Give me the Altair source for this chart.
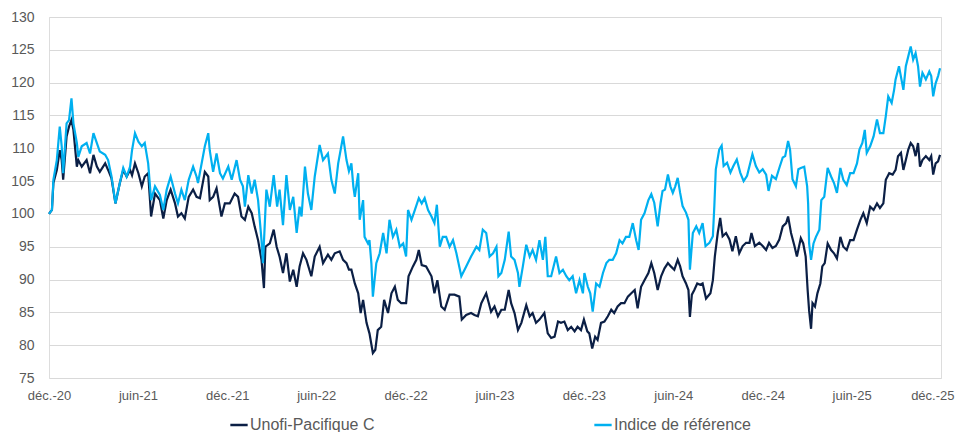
import altair as alt
import pandas as pd

# Day offsets from 1 Dec 2020 and index values (base 100)
unofi_days = [
    0, 6, 9, 16, 22, 26, 29, 36, 41, 46, 50, 57, 60, 67, 77, 84, 91, 98, 104, 115, 121, 128, 136, 145, 152, 159, 166, 170, 176, 183, 190, 196, 203, 209, 217, 227, 234, 241, 249, 258, 264, 271, 278, 286, 295, 302,
    309, 319, 326, 329, 336, 343, 353, 360, 370, 380, 387, 394, 401, 408, 415, 421, 428, 435, 440, 443, 452, 460, 466, 472, 479, 486, 493, 500, 507, 513, 520, 527, 537, 544, 554, 561, 571, 578, 585, 595, 602, 609,
    614, 619, 626, 633, 638, 643, 650, 656, 663, 668, 673, 680, 686, 694, 701, 708, 714, 721, 731, 736, 745, 752, 757, 763, 772, 783, 789, 795, 803, 810, 820, 830, 840, 845, 854, 864, 871, 878, 885, 895, 905, 912,
    919, 926, 933, 941, 946, 953, 960, 967, 977, 984, 990, 997, 1004, 1014, 1021, 1028, 1035, 1042, 1048, 1055, 1062, 1069, 1076, 1082, 1089, 1095, 1102, 1106, 1112, 1118, 1123, 1130, 1137, 1144, 1151, 1157, 1164, 1171, 1178, 1185, 1192, 1199, 1205, 1212, 1219, 1227,
    1233, 1239, 1246, 1253, 1260, 1267, 1273, 1280, 1287, 1292, 1297, 1304, 1309, 1312, 1316, 1321, 1327, 1333, 1338, 1345, 1354, 1359, 1363, 1369, 1374, 1379, 1386, 1393, 1399, 1406, 1413, 1420, 1427, 1434, 1438, 1445, 1454, 1461, 1468, 1474, 1481, 1488, 1495, 1502, 1509, 1513, 1519, 1526, 1531,
    1539, 1544, 1549, 1553, 1556, 1560, 1563, 1568, 1573, 1579, 1583, 1588, 1594, 1601, 1607, 1613, 1620, 1626, 1633, 1640, 1647, 1654, 1661, 1667, 1674, 1681, 1688, 1695, 1701, 1708, 1713, 1720, 1727, 1733, 1738, 1744, 1749, 1754, 1759, 1764, 1769, 1774, 1779, 1783, 1788, 1795, 1802, 1806, 1810, 1815, 1820, 1824,
]
unofi_vals = [
    100, 100.6, 104.7, 106.7, 109.7, 108.2, 105.2, 111.8, 113.3, 114.3, 112.8, 107.2, 108.2, 107.2, 108.2, 106.2, 109, 107.2, 106.4, 107.7, 106.7, 105.4, 101.6, 104.7, 106.7, 105.7, 106.7, 105.9, 107.7, 106.2, 104.2, 105.7, 106.2, 99.6, 103.1, 102.1, 99.3, 102.1, 103.7, 101.6, 99.6, 100.1, 99.3, 102.6, 103.7, 102.6,
    102.4, 106.4, 105.7, 102.1, 102.6, 103.9, 99.6, 101.6, 101.6, 103.1, 102.6, 99.6, 99.1, 101.1, 100.1, 98.1, 96, 93, 88.7, 95, 95.5, 97.6, 95, 93.5, 91, 94, 89.7, 91.5, 88.9, 92, 94, 93, 90.5, 93.5, 95, 92.5, 93.8, 93, 94, 94.3, 93, 92.5,
    91.5, 91.5, 89.4, 87.9, 84.9, 86.9, 83.4, 81.8, 78.8, 79.3, 82.3, 82.8, 86.9, 84.9, 87.9, 88.9, 86.9, 86.4, 86.4, 90.5, 92, 93, 94.5, 92.2, 92, 90.5, 87.9, 89.9, 85.9, 85.4, 87.7, 87.7, 87.4, 83.9, 84.6, 84.9, 84.6, 84.4, 86.4, 87.9, 85.1, 85.9,
    84.4, 85.4, 85.4, 88.4, 86.4, 84.9, 82.3, 83.4, 86.1, 84.4, 84.9, 83.4, 83.9, 84.9, 81.8, 81.1, 81.3, 83.6, 83.4, 83.6, 82.3, 82.8, 82.1, 82.8, 82.3, 83.9, 82.1, 81.8, 79.5, 81.3, 80.8, 83.4, 83.6, 84.4, 85.4, 84.9, 85.9, 86.4, 86.4, 87.4, 87.9, 88.4, 85.6, 88.9, 89.9, 91,
    92.5, 91, 88.4, 90.5, 91.7, 92.5, 92, 91.5, 93, 92, 90.5, 89.4, 88.4, 84.3, 87.7, 88.4, 89.4, 89.2, 89.4, 87.1, 87.9, 89.9, 93.5, 97.1, 99.4, 96.6, 97.1, 96.1, 94.3, 96.6, 94, 95.1, 95.6, 95.6, 97.1, 95.1, 95.6, 95.1, 94.5, 95.6, 94.8, 95.1, 96.1, 98.1, 98.6, 99.6, 97.1, 95.1, 93.5,
    96.3, 95.5, 93.5, 88.4, 85.3, 82.5, 86.4, 85.9, 87.9, 89.4, 92, 92.5, 95.5, 94.5, 94, 93.2, 96.5, 95, 94.5, 96, 96, 97.6, 99.1, 100.1, 98.6, 101.1, 100.6, 101.6, 100.9, 101.6, 105.2, 106.2, 106, 106.7, 108.8, 109.3, 106.7, 108.2, 109.8, 110.8, 110.3, 108.8, 110.8, 107.2, 108.2, 108.8, 108.2, 108.8, 106, 107.7, 108, 109,
]

indice_days = [
    0, 6, 9, 16, 22, 26, 29, 36, 41, 46, 50, 57, 60, 67, 77, 84, 91, 98, 104, 115, 121, 128, 136, 145, 152, 159, 166, 170, 176, 183, 190, 196, 203, 209, 217, 227, 234, 241, 249, 258, 264, 271, 278, 286, 295, 302,
    305, 319, 326, 329, 336, 343, 350, 356, 367, 374, 384, 391, 397, 401, 408, 415, 421, 428, 435, 438, 445, 452, 460, 467, 472, 479, 486, 493, 500, 507, 513, 517, 524, 530, 537, 544, 554, 561, 571, 578, 585, 592, 602, 609,
    614, 619, 623, 626, 633, 636, 643, 646, 653, 656, 660, 663, 670, 677, 684, 691, 697, 704, 711, 718, 725, 731, 735, 742, 748, 757, 763, 769, 776, 783, 789, 794, 800, 806, 813, 820, 827, 834, 844, 854, 864, 875, 881, 888, 895, 902, 909, 916, 920,
    926, 933, 941, 946, 953, 960, 963, 970, 977, 984, 990, 997, 1004, 1011, 1016, 1021, 1028, 1038, 1045, 1052, 1059, 1065, 1072, 1079, 1086, 1093, 1096, 1103, 1108, 1113, 1120, 1127, 1134, 1141, 1147, 1154, 1161, 1168, 1174, 1181, 1188, 1195, 1202, 1207, 1212, 1219, 1227,
    1233, 1239, 1246, 1252, 1256, 1261, 1267, 1272, 1277, 1282, 1287, 1292, 1297, 1304, 1309, 1312, 1318, 1325, 1331, 1338, 1344, 1352, 1359, 1362, 1365, 1372, 1377, 1381, 1388, 1395, 1401, 1408, 1415, 1422, 1429, 1434, 1440, 1447, 1454, 1461, 1468, 1473, 1480, 1488, 1495, 1502, 1507, 1513, 1517, 1522, 1529,
    1534, 1539, 1546, 1552, 1554, 1556, 1560, 1565, 1570, 1577, 1581, 1587, 1594, 1601, 1607, 1613, 1620, 1626, 1633, 1640, 1647, 1654, 1659, 1665, 1670, 1674, 1681, 1688, 1695, 1701, 1708, 1713, 1718, 1725, 1730, 1733, 1740, 1745, 1749, 1754, 1759, 1764, 1769, 1774, 1779, 1783, 1788, 1795, 1802, 1806, 1810, 1815, 1820, 1824,
]
indice_vals = [
    100, 100.6, 105.2, 108.2, 113.3, 110.3, 106.2, 113.8, 114.3, 117.6, 113.8, 110.8, 108.7, 110.3, 110.8, 109.2, 112.3, 110.8, 109.5, 109, 108.2, 105.7, 101.6, 104.7, 107, 105.7, 107.2, 109.7, 112.3, 111, 110.3, 110.8, 107.7, 102.1, 104.2, 102.9, 100.6, 103.7, 105.7, 103.1, 101.6, 103.7, 102.1, 105.2, 107.2, 105.7,
    104.7, 110.3, 112.3, 109.7, 106.4, 109.2, 106.2, 105.4, 107.2, 105.2, 108.2, 105.2, 104.2, 101.1, 105.9, 103.1, 105.2, 102.1, 96, 92.5, 103.7, 101.1, 105.9, 101.1, 103.7, 98.3, 105.9, 100.6, 102.6, 97.1, 101.1, 99.6, 107.2, 103.1, 100.6, 105.7, 110.5, 108.2, 109.2, 105.2, 103.1, 107.7, 111.8, 108.2,
    106.5, 107.7, 104.2, 102.6, 106.2, 99.1, 102.1, 96.5, 95.5, 96, 92.4, 87.4, 92.5, 94, 97.1, 94, 99.1, 96.5, 97.6, 95, 95.5, 93.5, 100.6, 99.1, 100.4, 102.4, 101.6, 102.4, 100.6, 99.6, 98.6, 101.4, 95, 96.5, 96.5, 95, 96, 94, 90.5, 92, 93.5, 95, 94.5, 97.6, 97.1, 93.5, 94, 95, 90.5,
    91, 93, 97.3, 93.5, 93, 91, 88.9, 92, 95.3, 93.5, 94.5, 93, 96, 93, 96.5, 90.5, 90.5, 93.5, 91, 91.5, 90.5, 89.9, 90.5, 87.9, 89.9, 87.9, 91, 88.9, 87.9, 85.1, 89.4, 88.9, 91, 92.5, 93, 93, 94, 96, 95.5, 96.5, 96.5, 98.6, 96, 94.5, 99.1, 100.1, 102.1,
    103, 101.7, 98.1, 101.7, 103.5, 103.7, 106, 104.2, 103.2, 104.2, 105.5, 103.2, 101.2, 100.2, 99.1, 91.5, 97.1, 98.1, 97.1, 98.6, 95.1, 95.6, 96.6, 101.2, 106.8, 109.8, 110.4, 107.3, 107.8, 106.3, 107.3, 108.3, 106.3, 105, 105.8, 107.3, 109.1, 107.3, 106.3, 106.8, 106, 103.5, 105.8, 105.3, 107, 108.6, 108.8, 111.1, 109.8, 105.3, 104.2,
    106.8, 107, 107.2, 104.2, 101.6, 95.5, 93, 95.5, 96.5, 97.6, 102.1, 102.6, 107, 105.7, 104.7, 103.2, 107, 105.2, 104.4, 106.2, 106.2, 107.7, 109.8, 110.8, 112.8, 109.3, 110.3, 111.8, 114.4, 112.3, 112.3, 114.9, 117.9, 116.9, 118.9, 120.5, 122.5, 120.5, 118.9, 122.5, 124, 125.5, 123.5, 124.5, 122.5, 119.4, 121.5, 120.5, 121.7, 121, 117.9, 119.9, 121, 122.2,
]

series_names = ["Unofi-Pacifique C", "Indice de référence"]
series_colors = ["#0B1F45", "#00B0F0"]
y_ticks = [75, 80, 85, 90, 95, 100, 105, 110, 115, 120, 125, 130]

assert len(unofi_days) == len(unofi_vals)
assert len(indice_days) == len(indice_vals)

base = pd.Timestamp("2020-12-01")
df_u = pd.DataFrame({
    "date": base + pd.to_timedelta(unofi_days, unit="D"),
    "value": unofi_vals,
    "series": series_names[0],
})
df_i = pd.DataFrame({
    "date": base + pd.to_timedelta(indice_days, unit="D"),
    "value": indice_vals,
    "series": series_names[1],
})
df = pd.concat([df_u, df_i], ignore_index=True)
df["date"] = df["date"].dt.strftime("%Y-%m-%dT%H:%M:%S")

tick_dates = []
for yr in range(2020, 2026):
    if yr > 2020:
        tick_dates.append(alt.DateTime(year=yr, month=6, date=1))
    tick_dates.append(alt.DateTime(year=yr, month=12, date=1))

last_test = "year(datum.value) == 2025 && month(datum.value) == 11"

x_enc = alt.X(
    "date:T",
    scale=alt.Scale(domain=[alt.DateTime(year=2020, month=12, date=1),
                            alt.DateTime(year=2025, month=12, date=1)]),
    axis=alt.Axis(
        values=tick_dates,
        labelExpr="(month(datum.value) == 11 ? 'déc.-' : 'juin-') + timeFormat(datum.value, '%y')",
        grid=False, domain=False, ticks=False, tickSize=0,
        labelPadding=11, labelFontSize=13, labelColor="#595959",
        labelFont="Liberation Sans", labelFlush=False, labelOverlap=False,
        labelAlign={"condition": {"test": last_test, "value": "right"}, "value": "center"},
        labelOffset={"condition": {"test": last_test, "value": 13}, "value": 0},
        title=None,
    ),
)
y_enc = alt.Y(
    "value:Q",
    scale=alt.Scale(domain=[75, 130], nice=False, zero=False),
    axis=alt.Axis(
        values=y_ticks, grid=True, gridColor="#D9D9D9", gridWidth=1,
        domain=False, ticks=False, tickSize=0, labelPadding=15,
        labelFontSize=14, labelColor="#595959", labelFont="Liberation Sans",
        title=None,
    ),
)
color_enc = alt.Color(
    "series:N",
    scale=alt.Scale(domain=series_names, range=series_colors),
    legend=alt.Legend(
        title=None, orient="none", direction="horizontal",
        legendX=180, legendY=398,
        symbolType="stroke", symbolSize=300, symbolStrokeWidth=2.5,
        labelFontSize=16, labelColor="#595959", labelFont="Liberation Sans",
        labelOffset=1, labelLimit=400, columnPadding=214,
    ),
)

line_u = alt.Chart(df).transform_filter(
    alt.datum.series == series_names[0]
).mark_line(strokeWidth=2.2).encode(x=x_enc, y=y_enc, color=color_enc)
line_i = alt.Chart(df).transform_filter(
    alt.datum.series == series_names[1]
).mark_line(strokeWidth=2.2).encode(x=x_enc, y=y_enc, color=color_enc)

chart = alt.layer(line_u, line_i).properties(
    width=892, height=361,
    autosize=alt.AutoSizeParams(type="none"),
    padding={"left": 41, "top": 9, "right": 14, "bottom": 54},
).configure_view(stroke=None).configure(background="white")

chart.save("out.html", embed_options={"renderer": "svg", "actions": False})
